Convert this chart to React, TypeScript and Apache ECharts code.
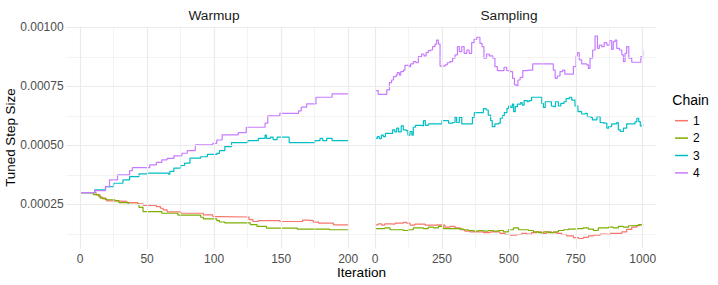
import React, { useEffect, useRef } from "react";
import * as echarts from "echarts";

const chains = ["1", "2", "3", "4"];
const chainColors = ["#F8766D", "#7CAE00", "#00BFC4", "#C77CFF"];
const panelTitles = ["Warmup", "Sampling"];
const warmupTicks = [0, 50, 100, 150, 200];
const samplingTicks = [0, 250, 500, 750, 1000];
const warmupMinor = [25, 75, 125, 175];
const samplingMinor = [125, 375, 625, 875];
const yTicks = [0.00025, 0.0005, 0.00075, 0.001];
const yMinor = [0.000125, 0.000375, 0.000625, 0.000875];

// Warmup: [iteration, step size] at change points
const warmup1 = [[0,0.0003],[10,0.0003],[12,0.000291],[15,0.000281],[17,0.000274],[20,0.000265],[26,0.000263],[35,0.000258],[43,0.000253],[47,0.000246],[57,0.000241],[60,0.000234],[62,0.000227],[65,0.000219],[75,0.000213],[92,0.000206],[99,0.000199],[104,0.000197],[126,0.000186],[129,0.000178],[133,0.000182],[149,0.000178],[166,0.000184],[170,0.000182],[174,0.000175],[178,0.000171],[189,0.000164],[200,0.000164]];
const warmup2 = [[0,0.0003],[9,0.0003],[10,0.000292],[14,0.000284],[15,0.000277],[19,0.00027],[26,0.000266],[29,0.000258],[36,0.000251],[44,0.000238],[47,0.00022],[61,0.000213],[73,0.000205],[90,0.000196],[92,0.000189],[102,0.000182],[104,0.000176],[108,0.000172],[127,0.000165],[132,0.000157],[139,0.00015],[162,0.000146],[186,0.000143],[200,0.000143]];
const warmup3 = [[0,0.0003],[11,0.000312],[19,0.000326],[25,0.00034],[32,0.000354],[37,0.000368],[44,0.00038],[50,0.000383],[66,0.000378],[67,0.00039],[70,0.000404],[75,0.000415],[78,0.000425],[82,0.000446],[90,0.000452],[95,0.000462],[102,0.000466],[104,0.000478],[108,0.000495],[113,0.000512],[125,0.00052],[133,0.00053],[138,0.000544],[139,0.00053],[142,0.000535],[144,0.000525],[147,0.000535],[156,0.000512],[175,0.00052],[179,0.00053],[181,0.00052],[184,0.00053],[188,0.00052],[200,0.00052]];
const warmup4 = [[0,0.0003],[11,0.000309],[19,0.000326],[22,0.000354],[28,0.000375],[37,0.000393],[39,0.000406],[52,0.000418],[57,0.000428],[61,0.000439],[65,0.000445],[70,0.000456],[76,0.000467],[80,0.000478],[86,0.000502],[99,0.000509],[102,0.000523],[106,0.000545],[118,0.000554],[124,0.000577],[138,0.000594],[140,0.000625],[149,0.000636],[163,0.000646],[165,0.000662],[169,0.000676],[176,0.000704],[188,0.000718],[200,0.000718]];

// Sampling: [iteration, step size]
const sampling1 = [[0,0.000164],[12,0.000168],[25,0.000163],[37,0.000168],[56,0.000167],[75,0.000171],[93,0.000171],[106,0.000174],[118,0.000171],[131,0.000163],[149,0.000167],[168,0.000167],[187,0.000163],[205,0.000163],[224,0.000164],[243,0.000163],[261,0.000154],[280,0.000157],[299,0.000151],[318,0.000143],[336,0.000137],[355,0.000134],[380,0.000134],[405,0.000131],[430,0.000134],[448,0.000134],[467,0.000128],[486,0.000123],[504,0.00012],[529,0.000123],[548,0.000128],[567,0.000125],[585,0.000131],[604,0.000134],[623,0.000128],[641,0.000134],[660,0.000131],[679,0.000128],[697,0.000123],[716,0.000117],[741,0.00011],[760,0.000106],[778,0.000111],[797,0.000117],[816,0.00012],[841,0.000125],[859,0.000123],[878,0.000128],[903,0.000128],[922,0.000134],[940,0.000145],[959,0.000154],[978,0.00016],[990,0.000165],[1000,0.000163]];
const sampling2 = [[0,0.000148],[19,0.000148],[37,0.000151],[56,0.000143],[81,0.000143],[106,0.00014],[125,0.000143],[143,0.000151],[162,0.000151],[181,0.000148],[199,0.000154],[218,0.000151],[237,0.000157],[255,0.000148],[274,0.000148],[293,0.000148],[311,0.000146],[330,0.000143],[349,0.00014],[367,0.000137],[386,0.00014],[405,0.000137],[423,0.00014],[442,0.000137],[461,0.00014],[480,0.000134],[498,0.000143],[517,0.000151],[536,0.000143],[554,0.000143],[573,0.00014],[592,0.000134],[610,0.000131],[629,0.000134],[648,0.000131],[666,0.000134],[685,0.00014],[704,0.000143],[722,0.000146],[741,0.000148],[760,0.000148],[778,0.000151],[797,0.000146],[816,0.00014],[834,0.000151],[853,0.000151],[872,0.000154],[890,0.000151],[909,0.000157],[928,0.000154],[947,0.00016],[965,0.000162],[984,0.000165],[1000,0.000162]];
const sampling3 = [[0,0.00053],[9,0.000537],[16,0.000529],[24,0.000544],[31,0.000537],[39,0.000551],[56,0.000551],[66,0.000566],[74,0.000557],[81,0.000573],[88,0.000557],[98,0.000583],[106,0.000566],[116,0.000563],[123,0.000544],[131,0.000559],[138,0.000543],[143,0.000577],[151,0.000585],[174,0.000583],[181,0.000605],[188,0.000585],[199,0.000591],[245,0.000591],[250,0.000605],[270,0.000605],[275,0.000594],[290,0.000597],[299,0.000619],[305,0.000597],[315,0.000619],[324,0.000591],[357,0.000591],[364,0.000619],[371,0.000639],[400,0.000639],[405,0.000656],[415,0.00065],[423,0.000628],[432,0.000605],[438,0.00058],[448,0.000591],[462,0.000594],[468,0.000615],[476,0.000626],[483,0.000639],[493,0.000657],[499,0.000667],[507,0.000661],[513,0.000675],[518,0.000643],[524,0.000664],[532,0.000675],[544,0.000681],[550,0.000671],[557,0.00069],[569,0.000685],[575,0.00069],[585,0.000704],[616,0.000704],[623,0.000678],[629,0.000661],[636,0.000685],[649,0.000685],[659,0.000667],[666,0.000664],[674,0.000685],[685,0.000667],[694,0.000678],[706,0.000685],[714,0.000698],[726,0.000704],[735,0.000692],[747,0.000667],[758,0.000643],[772,0.000633],[785,0.000636],[793,0.000622],[806,0.000619],[812,0.000608],[823,0.000608],[829,0.000622],[841,0.000597],[853,0.000594],[866,0.000573],[873,0.00058],[884,0.000591],[903,0.000597],[909,0.000566],[917,0.000559],[928,0.000573],[940,0.000591],[959,0.000591],[971,0.0006],[978,0.000615],[985,0.000601],[991,0.000583],[1000,0.000591]];
const sampling4 = [[0,0.000732],[9,0.000732],[12,0.000716],[37,0.000716],[44,0.000735],[54,0.000766],[62,0.000777],[69,0.000791],[79,0.000798],[83,0.000808],[91,0.000798],[96,0.000812],[106,0.000819],[112,0.000839],[121,0.000839],[128,0.000833],[133,0.000845],[143,0.000855],[153,0.00085],[162,0.000876],[174,0.000887],[183,0.000879],[191,0.000893],[199,0.000901],[208,0.000904],[215,0.000918],[224,0.000929],[230,0.000946],[237,0.000929],[243,0.000836],[262,0.000841],[270,0.00085],[280,0.000855],[290,0.000869],[299,0.000883],[308,0.000918],[315,0.000897],[324,0.000918],[333,0.00089],[343,0.000904],[352,0.00089],[361,0.000935],[370,0.000949],[380,0.000958],[387,0.000958],[392,0.000932],[400,0.000918],[407,0.000869],[417,0.000887],[427,0.000879],[440,0.000869],[448,0.000834],[457,0.000817],[473,0.000817],[482,0.000831],[492,0.000817],[504,0.000812],[514,0.000784],[521,0.000756],[529,0.000751],[534,0.000777],[542,0.000788],[552,0.000817],[564,0.000819],[579,0.000819],[589,0.000845],[660,0.000845],[666,0.000819],[673,0.000784],[681,0.000794],[691,0.000812],[701,0.000819],[709,0.000802],[726,0.000802],[741,0.000834],[751,0.000879],[756,0.000893],[763,0.000862],[772,0.000845],[791,0.000841],[797,0.000826],[803,0.000869],[813,0.000904],[822,0.000963],[831,0.000911],[838,0.000925],[847,0.000918],[856,0.000935],[866,0.000925],[876,0.000944],[884,0.000907],[890,0.000939],[897,0.000946],[903,0.000911],[913,0.000904],[922,0.000883],[928,0.000855],[934,0.00089],[940,0.000918],[948,0.000869],[959,0.000852],[984,0.000852],[993,0.000876],[1000,0.000904]];

const warmupData = [warmup1, warmup2, warmup3, warmup4];
const samplingData = [sampling1, sampling2, sampling3, sampling4];

const FONT = "Liberation Sans, Arial, sans-serif";
const Y_MIN = 0.0000633;
const Y_MAX = 0.001003;
const GRID_COLOR = "#EBEBEB";

function gridLines(xMajor: number[], xMinor: number[]) {
  const data: any[] = [];
  yMinor.forEach((v) => data.push({ yAxis: v, lineStyle: { width: 0.6 } }));
  xMinor.forEach((v) => data.push({ xAxis: v, lineStyle: { width: 0.6 } }));
  yTicks.forEach((v) => data.push({ yAxis: v, lineStyle: { width: 1.2 } }));
  xMajor.forEach((v) => data.push({ xAxis: v, lineStyle: { width: 1.2 } }));
  return {
    silent: true,
    precision: 10,
    symbol: ["none", "none"],
    label: { show: false },
    emphasis: { disabled: true },
    lineStyle: { color: GRID_COLOR, type: "solid" },
    data,
  };
}

export default function App() {
  const ref = useRef<HTMLDivElement>(null);
  useEffect(() => {
    if (!ref.current) return;
    const chart = echarts.init(ref.current, undefined, { renderer: "svg" });
    const series: any[] = [
      {
        name: "gridA",
        type: "line",
        xAxisIndex: 0,
        yAxisIndex: 0,
        data: [],
        symbol: "none",
        z: 1,
        markLine: gridLines(warmupTicks, warmupMinor),
      },
      {
        name: "gridB",
        type: "line",
        xAxisIndex: 1,
        yAxisIndex: 1,
        data: [],
        symbol: "none",
        z: 1,
        markLine: gridLines(samplingTicks, samplingMinor),
      },
    ];
    chains.forEach((c, i) => {
      series.push({
        name: c,
        type: "line",
        xAxisIndex: 0,
        yAxisIndex: 0,
        data: warmupData[i],
        step: "end",
        symbol: "none",
        z: 3,
        color: chainColors[i],
        lineStyle: { width: 1.2, color: chainColors[i] },
      });
      series.push({
        name: c,
        type: "line",
        xAxisIndex: 1,
        yAxisIndex: 1,
        data: samplingData[i],
        step: "end",
        symbol: "none",
        z: 3,
        color: chainColors[i],
        lineStyle: { width: 1.2, color: chainColors[i] },
      });
    });

    const xAxisCommon = {
      type: "value",
      axisLine: { show: false },
      axisTick: { show: false },
      splitLine: { show: false },
    };
    const yAxisCommon = {
      type: "value",
      min: Y_MIN,
      max: Y_MAX,
      axisLine: { show: false },
      axisTick: { show: false },
      splitLine: { show: false },
    };
    const xLabel = {
      margin: 4,
      fontSize: 12,
      color: "#4D4D4D",
      fontFamily: FONT,
      formatter: (v: number) => String(v),
    };

    chart.setOption({
      animation: false,
      textStyle: { fontFamily: FONT },
      grid: [
        { left: 66.6, top: 26.6, width: 295, height: 222 },
        { left: 361.6, top: 26.6, width: 294.5, height: 222 },
      ],
      xAxis: [
        { ...xAxisCommon, gridIndex: 0, min: -10, max: 210, axisLabel: { ...xLabel, customValues: warmupTicks } },
        { ...xAxisCommon, gridIndex: 1, min: -50, max: 1050, axisLabel: { ...xLabel, customValues: samplingTicks } },
      ],
      yAxis: [
        {
          ...yAxisCommon,
          gridIndex: 0,
          axisLabel: {
            customValues: yTicks,
            margin: 3,
            fontSize: 12,
            color: "#4D4D4D",
            fontFamily: FONT,
            formatter: (v: number) => v.toFixed(5),
          },
        },
        { ...yAxisCommon, gridIndex: 1, axisLabel: { show: false } },
      ],
      legend: {
        data: chains,
        orient: "vertical",
        left: 675,
        top: 113.7,
        padding: 0,
        icon: "rect",
        itemWidth: 13,
        itemHeight: 1.5,
        itemGap: 3.4,
        textStyle: { fontSize: 12, lineHeight: 14, color: "#000000", fontFamily: FONT },
        selectedMode: false,
      },
      graphic: [
        {
          type: "text",
          x: 214,
          y: 15,
          style: { text: panelTitles[0], fontSize: 13.7, fontFamily: FONT, fill: "#1A1A1A", align: "center", verticalAlign: "middle" },
        },
        {
          type: "text",
          x: 509,
          y: 15,
          style: { text: panelTitles[1], fontSize: 13.7, fontFamily: FONT, fill: "#1A1A1A", align: "center", verticalAlign: "middle" },
        },
        {
          type: "text",
          x: 361.5,
          y: 272,
          style: { text: "Iteration", fontSize: 13.6, fontFamily: FONT, fill: "#000000", align: "center", verticalAlign: "middle" },
        },
        {
          type: "text",
          x: 10.5,
          y: 137.6,
          rotation: Math.PI / 2,
          style: { text: "Tuned Step Size", fontSize: 13.4, fontFamily: FONT, fill: "#000000", align: "center", verticalAlign: "middle" },
        },
        {
          type: "text",
          x: 672.3,
          y: 100,
          style: { text: "Chain", fontSize: 14, fontFamily: FONT, fill: "#000000", align: "left", verticalAlign: "middle" },
        },
      ],
      series,
    });
    return () => chart.dispose();
  }, []);
  return <div ref={ref} style={{ position: "absolute", left: 0, top: 0, width: 718, height: 285 }} />;
}
